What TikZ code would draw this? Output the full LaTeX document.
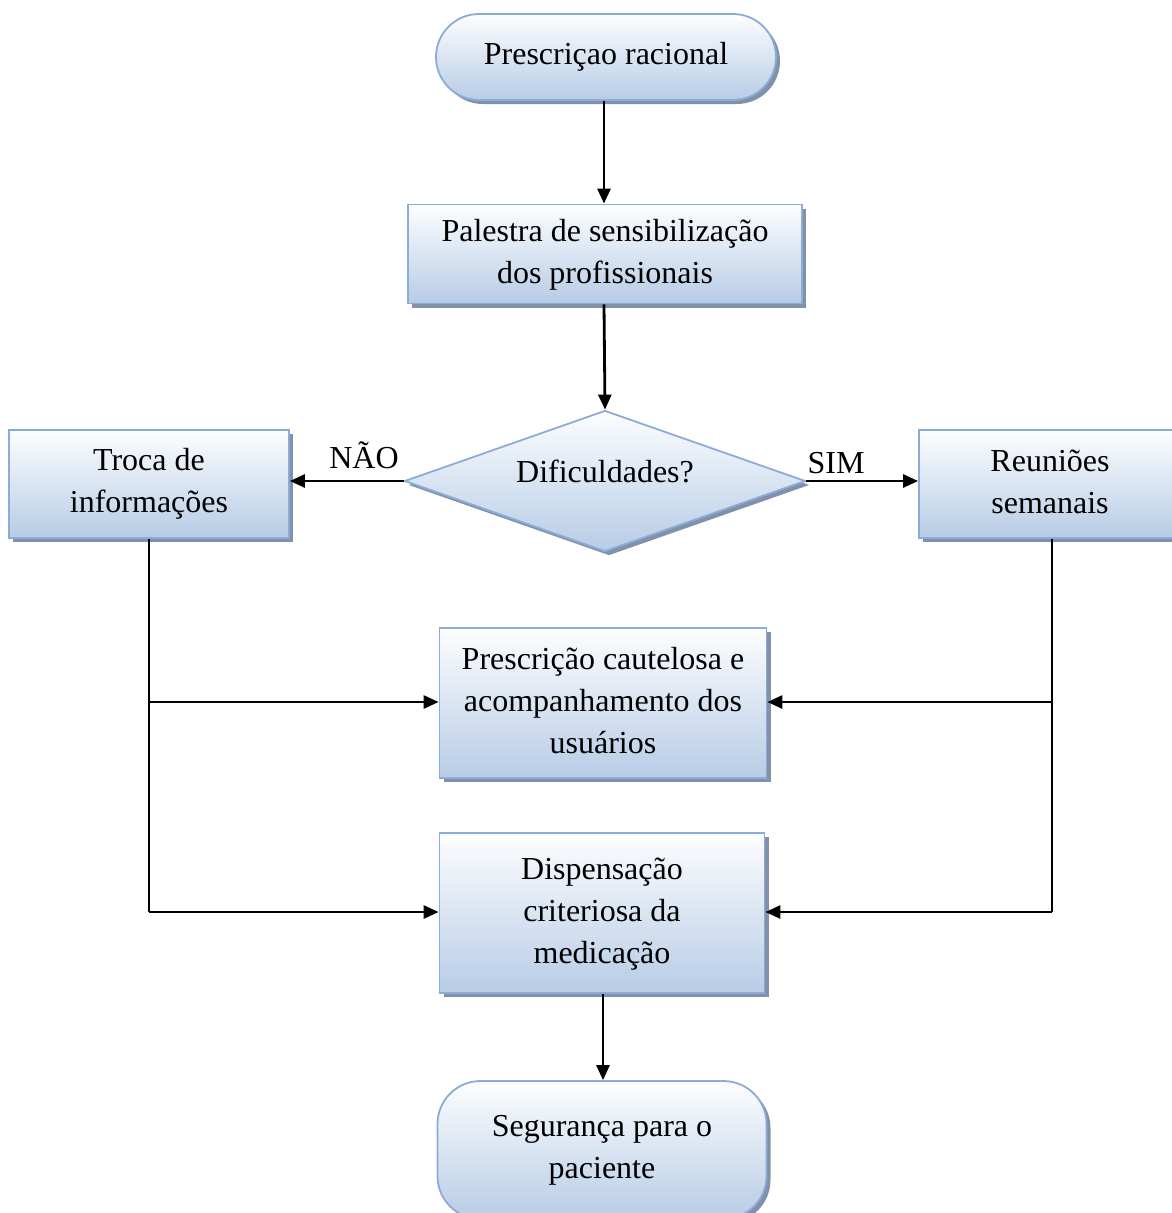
\documentclass[tikz,border=0pt]{standalone}
\usepackage{fontspec}
\setmainfont{Liberation Serif}
\usetikzlibrary{shapes.geometric,shadows,arrows.meta}
\definecolor{bordc}{RGB}{140,172,215}
\definecolor{botc}{RGB}{183,204,230}
\definecolor{shadc}{RGB}{130,145,170}
\begin{document}
\begin{tikzpicture}[x=1pt,y=-1pt,
  base/.style={draw=bordc, line width=1.8pt, top color=white!97!botc, bottom color=botc,
    drop shadow={shadow xshift=4pt, shadow yshift=-4pt, fill=shadc, opacity=1},
    font=\fontsize{32}{42}\selectfont, align=center, inner sep=0pt},
  term/.style={base, rounded corners=43pt},
  procbox/.style={base},
  decis/.style={base, diamond, aspect=2.84},
  conn/.style={line width=2.8pt, -{Triangle[length=15pt,width=13pt]}},
  plain/.style={line width=2.8pt},
  lab/.style={font=\fontsize{32}{42}\selectfont}
]
\useasboundingbox (0,0) rectangle (1172,1213);
\node[term, minimum width=340pt, minimum height=86pt] (start) at (606,57) {Prescriçao racional};
\node[procbox, minimum width=394pt, minimum height=99pt] (pal) at (605,254) {\raisebox{-6pt}{\begin{tabular}{@{}c@{}}Palestra de sensibilização\\dos profissionais\end{tabular}}};
\node[decis, minimum width=401pt, minimum height=141pt] (dif) at (605,481) {\raisebox{20pt}{Dificuldades?}};
\node[procbox, minimum width=280pt, minimum height=108pt] (troca) at (149,484) {Troca de\\informações};
\node[procbox, minimum width=262pt, minimum height=108pt] (reun) at (1050,484) {\raisebox{4pt}{\begin{tabular}{@{}c@{}}Reuniões\\semanais\end{tabular}}};
\node[procbox, minimum width=327pt, minimum height=150pt] (presc) at (603,703) {\raisebox{4pt}{\begin{tabular}{@{}c@{}}Prescrição cautelosa e\\acompanhamento dos\\usuários\end{tabular}}};
\node[procbox, minimum width=325pt, minimum height=160pt] (disp) at (602,913) {\raisebox{7pt}{\begin{tabular}{@{}c@{}}Dispensação\\criteriosa da\\medicação\end{tabular}}};
\node[term, minimum width=329pt, minimum height=138pt] (seg) at (602,1150) {Segurança para o\\paciente};
\node[lab] (nao) at (364,455) {NÃO};
\node[lab] (sim) at (836,463) {SIM};
\coordinate (lc) at (149,912);
\coordinate (rc) at (1052,912);
\coordinate (lm) at (149,702);
\coordinate (rm) at (1052,702);

\draw[conn] (start.south -| 604,0) -- (pal.north -| 604,0);
\draw[conn] (pal.south -| 604,0) -- (dif.north);
\draw[conn] (dif.west) -- (dif.west -| troca.east);
\draw[conn] (dif.east) -- (dif.east -| reun.west);
\draw[plain] (troca.south) -- (lc);
\draw[plain] (reun.south -| rc) -- (rc);
\draw[conn] (lm) -- (lm -| presc.west);
\draw[conn] (rm) -- (rm -| presc.east);
\draw[conn] (lc) -- (lc -| disp.west);
\draw[conn] (rc) -- (rc -| disp.east);
\draw[conn] (disp.south -| 603,0) -- (seg.north -| 603,0);
\end{tikzpicture}
\end{document}
